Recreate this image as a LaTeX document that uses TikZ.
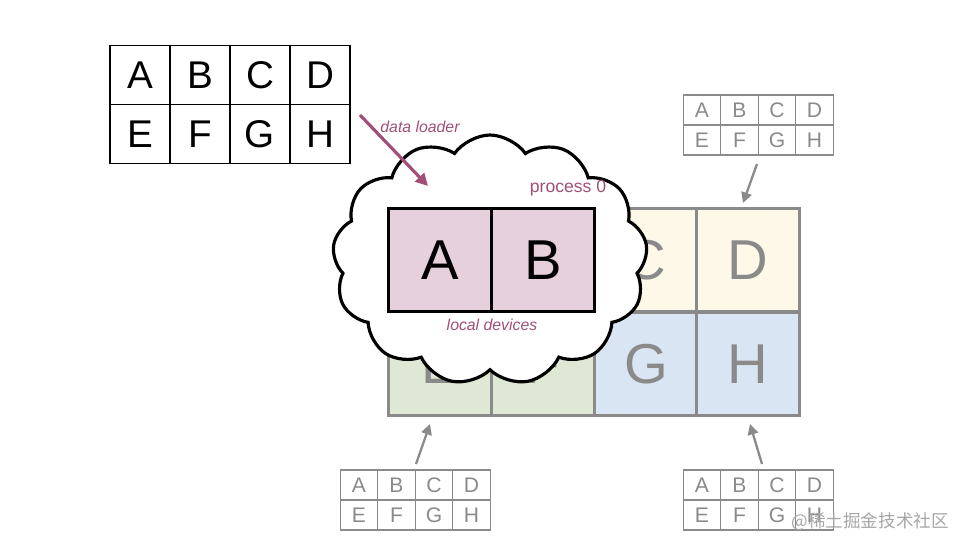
\documentclass[tikz,border=0pt]{standalone}
\usepackage{fontspec}
\setmainfont{Liberation Sans}
\newfontfamily\cjk{Noto Sans CJK SC}
\usetikzlibrary{shapes.symbols,arrows.meta}
\definecolor{mauve}{HTML}{A24F78}
\definecolor{pinkc}{HTML}{E6D0DC}
\definecolor{yelc}{HTML}{FDF8E7}
\definecolor{grnc}{HTML}{DFE8D5}
\definecolor{bluc}{HTML}{D9E5F3}
\definecolor{greyl}{HTML}{8A8A8A}
\begin{document}
\begin{tikzpicture}[x=0.02cm,y=-0.02cm]
        % shard grid
        \tikzstyle{cellbig} = [draw=greyl,line width=1.3pt,minimum width=2.06cm,minimum height=2.06cm,text=greyl,font=\fontsize{32}{34}\selectfont];
        \tikzstyle{cellsmall} = [draw=greyl,line width=0.7pt,minimum width=0.75cm,minimum height=0.6cm,text=greyl,font=\fontsize{12}{14}\selectfont];
        \tikzstyle{cellfull} = [draw,line width=1pt,minimum width=1.2cm,minimum height=1.18cm,font=\fontsize{22}{24}\selectfont];
        \tikzstyle{tag} = [text=mauve,font=\fontsize{9}{10}\selectfont\itshape];
        \tikzstyle{feed} = [-{Triangle[length=6pt,width=6pt]},greyl,line width=1.3pt];
        \useasboundingbox (0,0) rectangle (960,540);

        % full batch
        \foreach \t [count=\i from 0] in {A,B,C,D}
            \node[cellfull] (top\t) at (140+60*\i,75) {\t};
        \foreach \t [count=\i from 0] in {E,F,G,H}
            \node[cellfull] (top\t) at (140+60*\i,134) {\t};

        % small batch copies
        \foreach \pre/\x/\y in {tr/683/95,bl/340/470,br/683/470}{
            \foreach \t [count=\i from 0] in {A,B,C,D}
                \node[cellsmall] (\pre\t) at (\x+19+37.5*\i,\y+15) {\t};
            \foreach \t [count=\i from 0] in {E,F,G,H}
                \node[cellsmall] (\pre\t) at (\x+19+37.5*\i,\y+45) {\t};
        }

        % devices
        \node[cellbig,fill=yelc] (C) at (646,260) {C};
        \node[cellbig,fill=yelc] (D) at (748,260) {D};
        \node[cellbig,fill=grnc] (E) at (440,364) {E};
        \node[cellbig,fill=grnc] (F) at (543,364) {F};
        \node[cellbig,fill=bluc] (G) at (646,364) {G};
        \node[cellbig,fill=bluc] (H) at (748,364) {H};

        \node[cloud,draw,fill=white,line width=1.8pt,cloud puffs=13,cloud puff arc=110,aspect=1.3,minimum width=6.3cm,minimum height=5cm] (proc) at (490,260) {};
        \node[cellbig,fill=pinkc,draw=black,text=black] (A) at (440,260) {A};
        \node[cellbig,fill=pinkc,draw=black,text=black] (B) at (543,260) {B};

        \node[text=mauve,font=\fontsize{10}{12}\selectfont] (p0) at (568,188) {process 0};
        \node[tag] (loc) at (492,325) {local devices};
        \node[tag] (dl) at (420,127) {data loader};

        \coordinate (dls) at (360,115);
        \coordinate (dle) at (428,186);
        \draw[-{Triangle[length=7pt,width=7pt]},mauve,line width=1.8pt] (dls) -- (dle);
        \coordinate (a1) at (757,164);
        \coordinate (a2) at (416,464);
        \coordinate (a3) at (762,464);
        \draw[feed] (a1) -- (743,203);
        \draw[feed] (a2) -- (430,424);
        \draw[feed] (a3) -- (750,424);

        \node[text=black!35,font=\cjk\fontsize{10}{12}\selectfont,anchor=east] (wm) at (955,522) {@稀土掘金技术社区};
\end{tikzpicture}
\end{document}
